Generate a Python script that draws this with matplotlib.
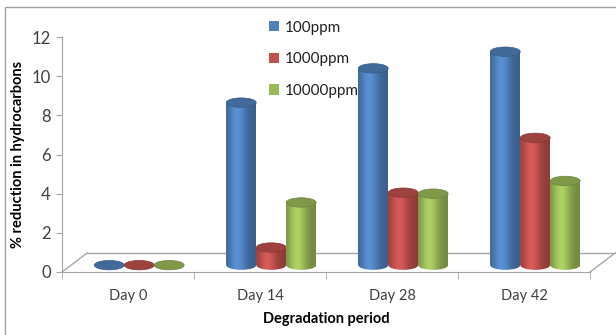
import numpy as np
import matplotlib
matplotlib.use("Agg")
import matplotlib.pyplot as plt
from matplotlib.patches import Ellipse, Patch, Rectangle
from matplotlib.lines import Line2D

plt.rcParams['font.family'] = ['Lato', 'DejaVu Sans']

days = ["Day 0", "Day 14", "Day 28", "Day 42"]
series = ["100ppm", "1000ppm", "10000ppm"]
ppm100 = [0.0, 8.3, 10.05, 10.9]
ppm1000 = [0.0, 0.9, 3.7, 6.5]
ppm10000 = [0.0, 3.2, 3.65, 4.3]
colors = ["#4F81BD", "#C0504D", "#9BBB59"]

fig = plt.figure(figsize=(6.16, 3.35), dpi=100)
ax = fig.add_axes([62 / 616, 63 / 335, 528 / 616, 235 / 335])

base = 0.35      # bars stand in the middle of the floor
width = 0.227
shift = 0.085
eh = 0.48        # ellipse height in data units

def shade(col, n=64):
    rgb = np.array(matplotlib.colors.to_rgb(col))
    t = np.linspace(0, 1, n)
    f = 0.74 + 0.38 * np.exp(-((t - 0.38) / 0.3) ** 2)
    img = np.clip(rgb[None, :] * f[:, None], 0, 1)
    return img[None, :, :]

x = np.arange(len(days))
for k, vals in enumerate([ppm100, ppm1000, ppm10000]):
    xc = x + shift + (k - 1) * width
    bars = ax.bar(xc, vals, width=width, bottom=base, color="none",
                  edgecolor="none", zorder=3 + k)
    img = shade(colors[k])
    for b, v in zip(bars, vals):
        cx = b.get_x() + b.get_width() / 2
        bot = Ellipse((cx, base), width, eh, facecolor="none", edgecolor="none")
        ax.add_patch(bot)
        if v > 0:
            im = ax.imshow(img, extent=(b.get_x(), b.get_x() + width, base, base + v),
                           aspect="auto", zorder=3 + k, interpolation="bilinear")
            im.set_clip_path(b)
            im2 = ax.imshow(img, extent=(b.get_x(), b.get_x() + width, base - eh, base),
                            aspect="auto", zorder=3 + k, interpolation="bilinear")
            im2.set_clip_path(bot)
        topc = np.array(matplotlib.colors.to_rgb(colors[k])) * 0.82
        top = Ellipse((cx, base + v), width, eh, facecolor=topc,
                      edgecolor=np.array(matplotlib.colors.to_rgb(colors[k])) * 0.7,
                      linewidth=0.5, zorder=3 + k)
        ax.add_patch(top)

# floor of the 3d plot
dx, dy = 0.19, 0.97
gray = "#A6A6A6"
ax.add_line(Line2D([-0.5, -0.5 + dx], [0, dy], color=gray, lw=1, clip_on=False, zorder=1))
ax.add_line(Line2D([-0.5 + dx, 3.7], [dy, dy], color=gray, lw=1, clip_on=False, zorder=1))
ax.add_line(Line2D([3.5, 3.5 + dx], [0, dy], color=gray, lw=1, clip_on=False, zorder=1))

ax.set_xlim(-0.5, 3.5)
ax.set_ylim(0, 12)
ax.set_yticks(range(0, 13, 2))
ax.set_xticks(x)
ax.set_xticklabels(days)
ax.set_xticks(np.arange(-0.5, 4, 1), minor=True)
ax.tick_params(axis="x", which="major", length=0, pad=12, labelsize=10.5, colors="#404040")
ax.tick_params(axis="x", which="minor", length=5, color=gray, direction="out")
ax.tick_params(axis="y", length=4, color=gray, labelsize=12, labelcolor="#404040", pad=4)
for s in ["top", "right"]:
    ax.spines[s].set_visible(False)
ax.spines["left"].set_color(gray)
ax.spines["bottom"].set_color(gray)
ax.set_facecolor("none")

ax.set_ylabel("% reduction in hydrocarbons", fontsize=10.5, fontweight="bold", labelpad=5)
ax.set_xlabel("Degradation period", fontsize=10.5, fontweight="bold", labelpad=7)

handles = [Patch(facecolor=c, edgecolor="none") for c in colors]
fig.legend(handles, series, loc="upper left", bbox_to_anchor=(255 / 616, 1 - 7 / 335),
           frameon=False, fontsize=11, handlelength=0.65, handleheight=0.65,
           handletextpad=0.4, labelspacing=1.15, labelcolor="#202020")

fig.add_artist(Rectangle((5 / 616, -0.1), 1.2, 1.1 - 7 / 335, transform=fig.transFigure,
                         fill=False, edgecolor="#A0A0A0", linewidth=1))

fig.savefig("out.png", dpi=100)
